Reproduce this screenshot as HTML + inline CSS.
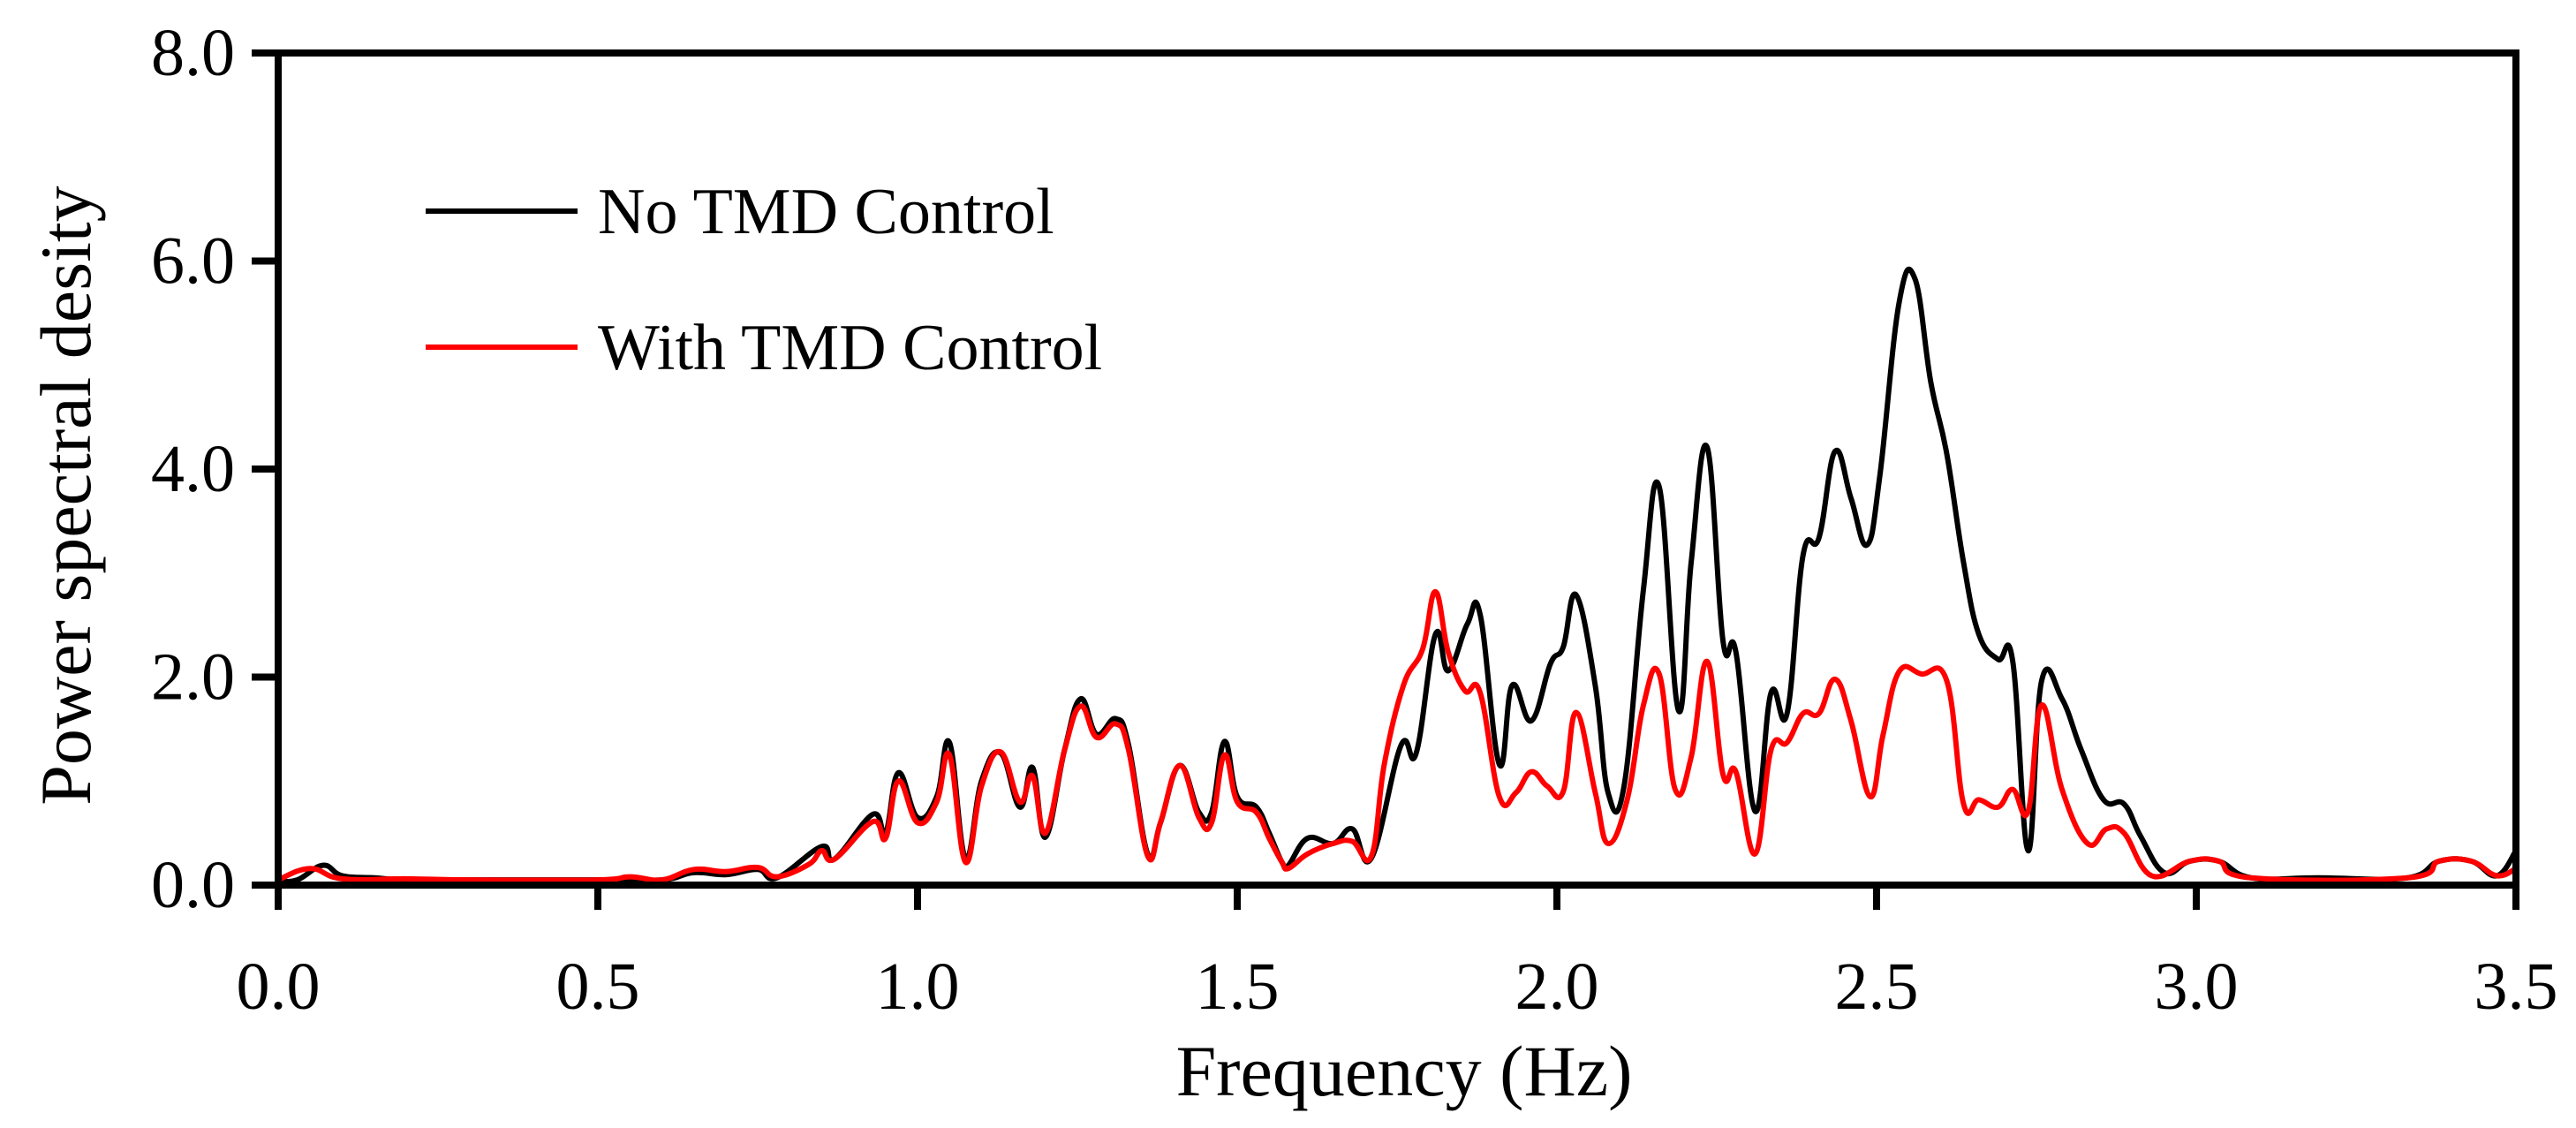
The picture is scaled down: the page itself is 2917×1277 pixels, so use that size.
<!DOCTYPE html>
<html><head><meta charset="utf-8"><style>
html,body{margin:0;padding:0;background:#fff;}
svg{display:block;font-family:"Liberation Serif",serif;}
</style></head><body>
<svg id="chart" width="2917" height="1277" viewBox="0 0 2917 1277">
<g id="plot"></g>
</svg>
<script>
const freqBlack=[0,0.03,0.07,0.1,0.15,0.2,0.3,0.4,0.5,0.6,0.65,0.7,0.75,0.78,0.85,0.87,0.93,0.95,0.97,1.0,1.03,1.05,1.075,1.1,1.13,1.16,1.18,1.2,1.23,1.255,1.28,1.31,1.33,1.36,1.38,1.41,1.44,1.46,1.48,1.5,1.53,1.55,1.57,1.58,1.61,1.65,1.68,1.71,1.756,1.78,1.81,1.83,1.86,1.88,1.91,1.93,1.96,1.99,2.01,2.03,2.06,2.08,2.105,2.135,2.16,2.19,2.21,2.235,2.26,2.28,2.31,2.335,2.36,2.385,2.41,2.435,2.46,2.485,2.505,2.535,2.56,2.585,2.61,2.636,2.66,2.69,2.713,2.737,2.758,2.79,2.82,2.855,2.887,2.913,2.95,2.99,3.035,3.086,3.19,3.33,3.38,3.43,3.47,3.5];
const psdBlack=[0.04,0.05,0.19,0.09,0.07,0.05,0.05,0.05,0.05,0.05,0.12,0.1,0.15,0.07,0.37,0.25,0.68,0.5,1.08,0.65,0.85,1.37,0.26,1.0,1.27,0.75,1.13,0.46,1.3,1.79,1.45,1.6,1.35,0.3,0.6,1.15,0.7,0.7,1.38,0.85,0.75,0.5,0.22,0.19,0.45,0.4,0.54,0.26,1.34,1.27,2.41,2.06,2.51,2.6,1.16,1.92,1.58,2.13,2.29,2.79,1.92,0.89,0.95,2.82,3.83,1.68,3.1,4.21,2.34,2.24,0.71,1.85,1.65,3.17,3.34,4.17,3.72,3.27,3.93,5.59,5.83,4.83,4.14,3.1,2.41,2.17,2.15,0.33,1.96,1.79,1.3,0.82,0.78,0.47,0.12,0.23,0.23,0.07,0.07,0.07,0.23,0.23,0.09,0.33];
const freqRed=[0,0.05,0.1,0.2,0.3,0.5,0.55,0.6,0.65,0.7,0.75,0.78,0.83,0.85,0.87,0.93,0.95,0.97,1.0,1.03,1.05,1.075,1.1,1.13,1.16,1.18,1.2,1.23,1.255,1.28,1.31,1.33,1.36,1.38,1.41,1.44,1.46,1.48,1.5,1.53,1.55,1.57,1.58,1.61,1.65,1.68,1.71,1.73,1.76,1.79,1.81,1.83,1.856,1.88,1.91,1.936,1.96,1.985,2.01,2.03,2.06,2.08,2.11,2.135,2.16,2.185,2.21,2.235,2.26,2.28,2.31,2.335,2.36,2.385,2.41,2.435,2.46,2.49,2.51,2.535,2.57,2.61,2.636,2.66,2.69,2.713,2.737,2.758,2.79,2.83,2.86,2.887,2.93,2.99,3.035,3.086,3.33,3.38,3.43,3.47,3.5];
const psdRed=[0.05,0.16,0.06,0.06,0.05,0.05,0.08,0.05,0.15,0.13,0.17,0.08,0.2,0.33,0.25,0.61,0.45,1.0,0.6,0.8,1.25,0.22,0.95,1.28,0.8,1.05,0.5,1.3,1.72,1.42,1.55,1.3,0.28,0.6,1.15,0.65,0.6,1.25,0.8,0.7,0.45,0.22,0.16,0.3,0.4,0.42,0.28,1.16,1.92,2.27,2.82,2.24,1.87,1.85,0.85,0.89,1.09,0.95,0.9,1.66,0.89,0.4,0.82,1.72,2.03,0.92,1.23,2.15,1.06,1.09,0.3,1.3,1.37,1.65,1.65,1.98,1.58,0.85,1.44,2.05,2.03,1.96,0.78,0.82,0.75,0.92,0.71,1.73,0.92,0.4,0.54,0.5,0.09,0.23,0.23,0.07,0.07,0.23,0.23,0.09,0.16];
const xTicks=[0,0.5,1.0,1.5,2.0,2.5,3.0,3.5];
const yTicks=[0,2,4,6,8];

const X0=315,X1=2849,Y0=1002,Y1=60;
const sx=v=>X0+(v-0)/(3.5)*(X1-X0);
const sy=v=>Y0-(v/8)*(Y0-Y1);
const NS="http://www.w3.org/2000/svg";
const g=document.getElementById('plot');
function mk(t,a){const e=document.createElementNS(NS,t);for(const k in a)e.setAttribute(k,a[k]);g.appendChild(e);return e;}

function series(fx,fy,color,name){
  const P=fx.map((f,i)=>[sx(f),sy(fy[i])]);
  let d='M'+P[0][0].toFixed(1)+','+P[0][1].toFixed(1);
  for(let i=0;i<P.length-1;i++){
    const p0=P[Math.max(0,i-1)],p1=P[i],p2=P[i+1],p3=P[Math.min(P.length-1,i+2)];
    const t=0.2;
    const c1=[p1[0]+(p2[0]-p0[0])*t,p1[1]+(p2[1]-p0[1])*t];
    const c2=[p2[0]-(p3[0]-p1[0])*t,p2[1]-(p3[1]-p1[1])*t];
    d+=' C'+c1[0].toFixed(1)+','+c1[1].toFixed(1)+' '+c2[0].toFixed(1)+','+c2[1].toFixed(1)+' '+p2[0].toFixed(1)+','+p2[1].toFixed(1);
  }
  const p=mk('path',{d:d,fill:'none',stroke:color,'stroke-width':6,'stroke-linejoin':'round'});
  
  
}
series(freqBlack,psdBlack,'#000','series-no-tmd');
series(freqRed,psdRed,'#ff0000','series-with-tmd');

const fr=mk('rect',{x:X0,y:Y1,width:X1-X0,height:Y0-Y1,fill:'none',stroke:'#000','stroke-width':8});



xTicks.forEach(t=>{
  const l=mk('line',{x1:sx(t),x2:sx(t),y1:Y0,y2:Y0+28,stroke:'#000','stroke-width':8});
  
  
  const tx=mk('text',{x:sx(t),y:Y0+140,'font-size':76,'text-anchor':'middle',fill:'#000'});
  tx.textContent=t.toFixed(1);
  
  
});
yTicks.forEach(t=>{
  const l=mk('line',{x1:X0-30,x2:X0,y1:sy(t),y2:sy(t),stroke:'#000','stroke-width':8});
  
  
  const tx=mk('text',{x:266,y:sy(t)+25,'font-size':76,'text-anchor':'end',fill:'#000'});
  tx.textContent=t.toFixed(1);
  
  
});
</script>
<svg width="2917" height="1277" style="position:absolute;left:0;top:0" font-family="Liberation Serif, serif">
<text x="1590" y="1240" font-size="82" text-anchor="middle">Frequency (Hz)</text>
<text x="0" y="0" font-size="82" text-anchor="middle" transform="translate(102,561) rotate(-90)">Power spectral desity</text>
<g>
<line x1="482" y1="239" x2="654" y2="239" stroke="#000" stroke-width="6"/>
<text x="677" y="264" font-size="74">No TMD Control</text>
<line x1="482" y1="393" x2="654" y2="393" stroke="#ff0000" stroke-width="6"/>
<text x="677" y="418" font-size="74">With TMD Control</text>
</g>
</svg>
</body></html>
